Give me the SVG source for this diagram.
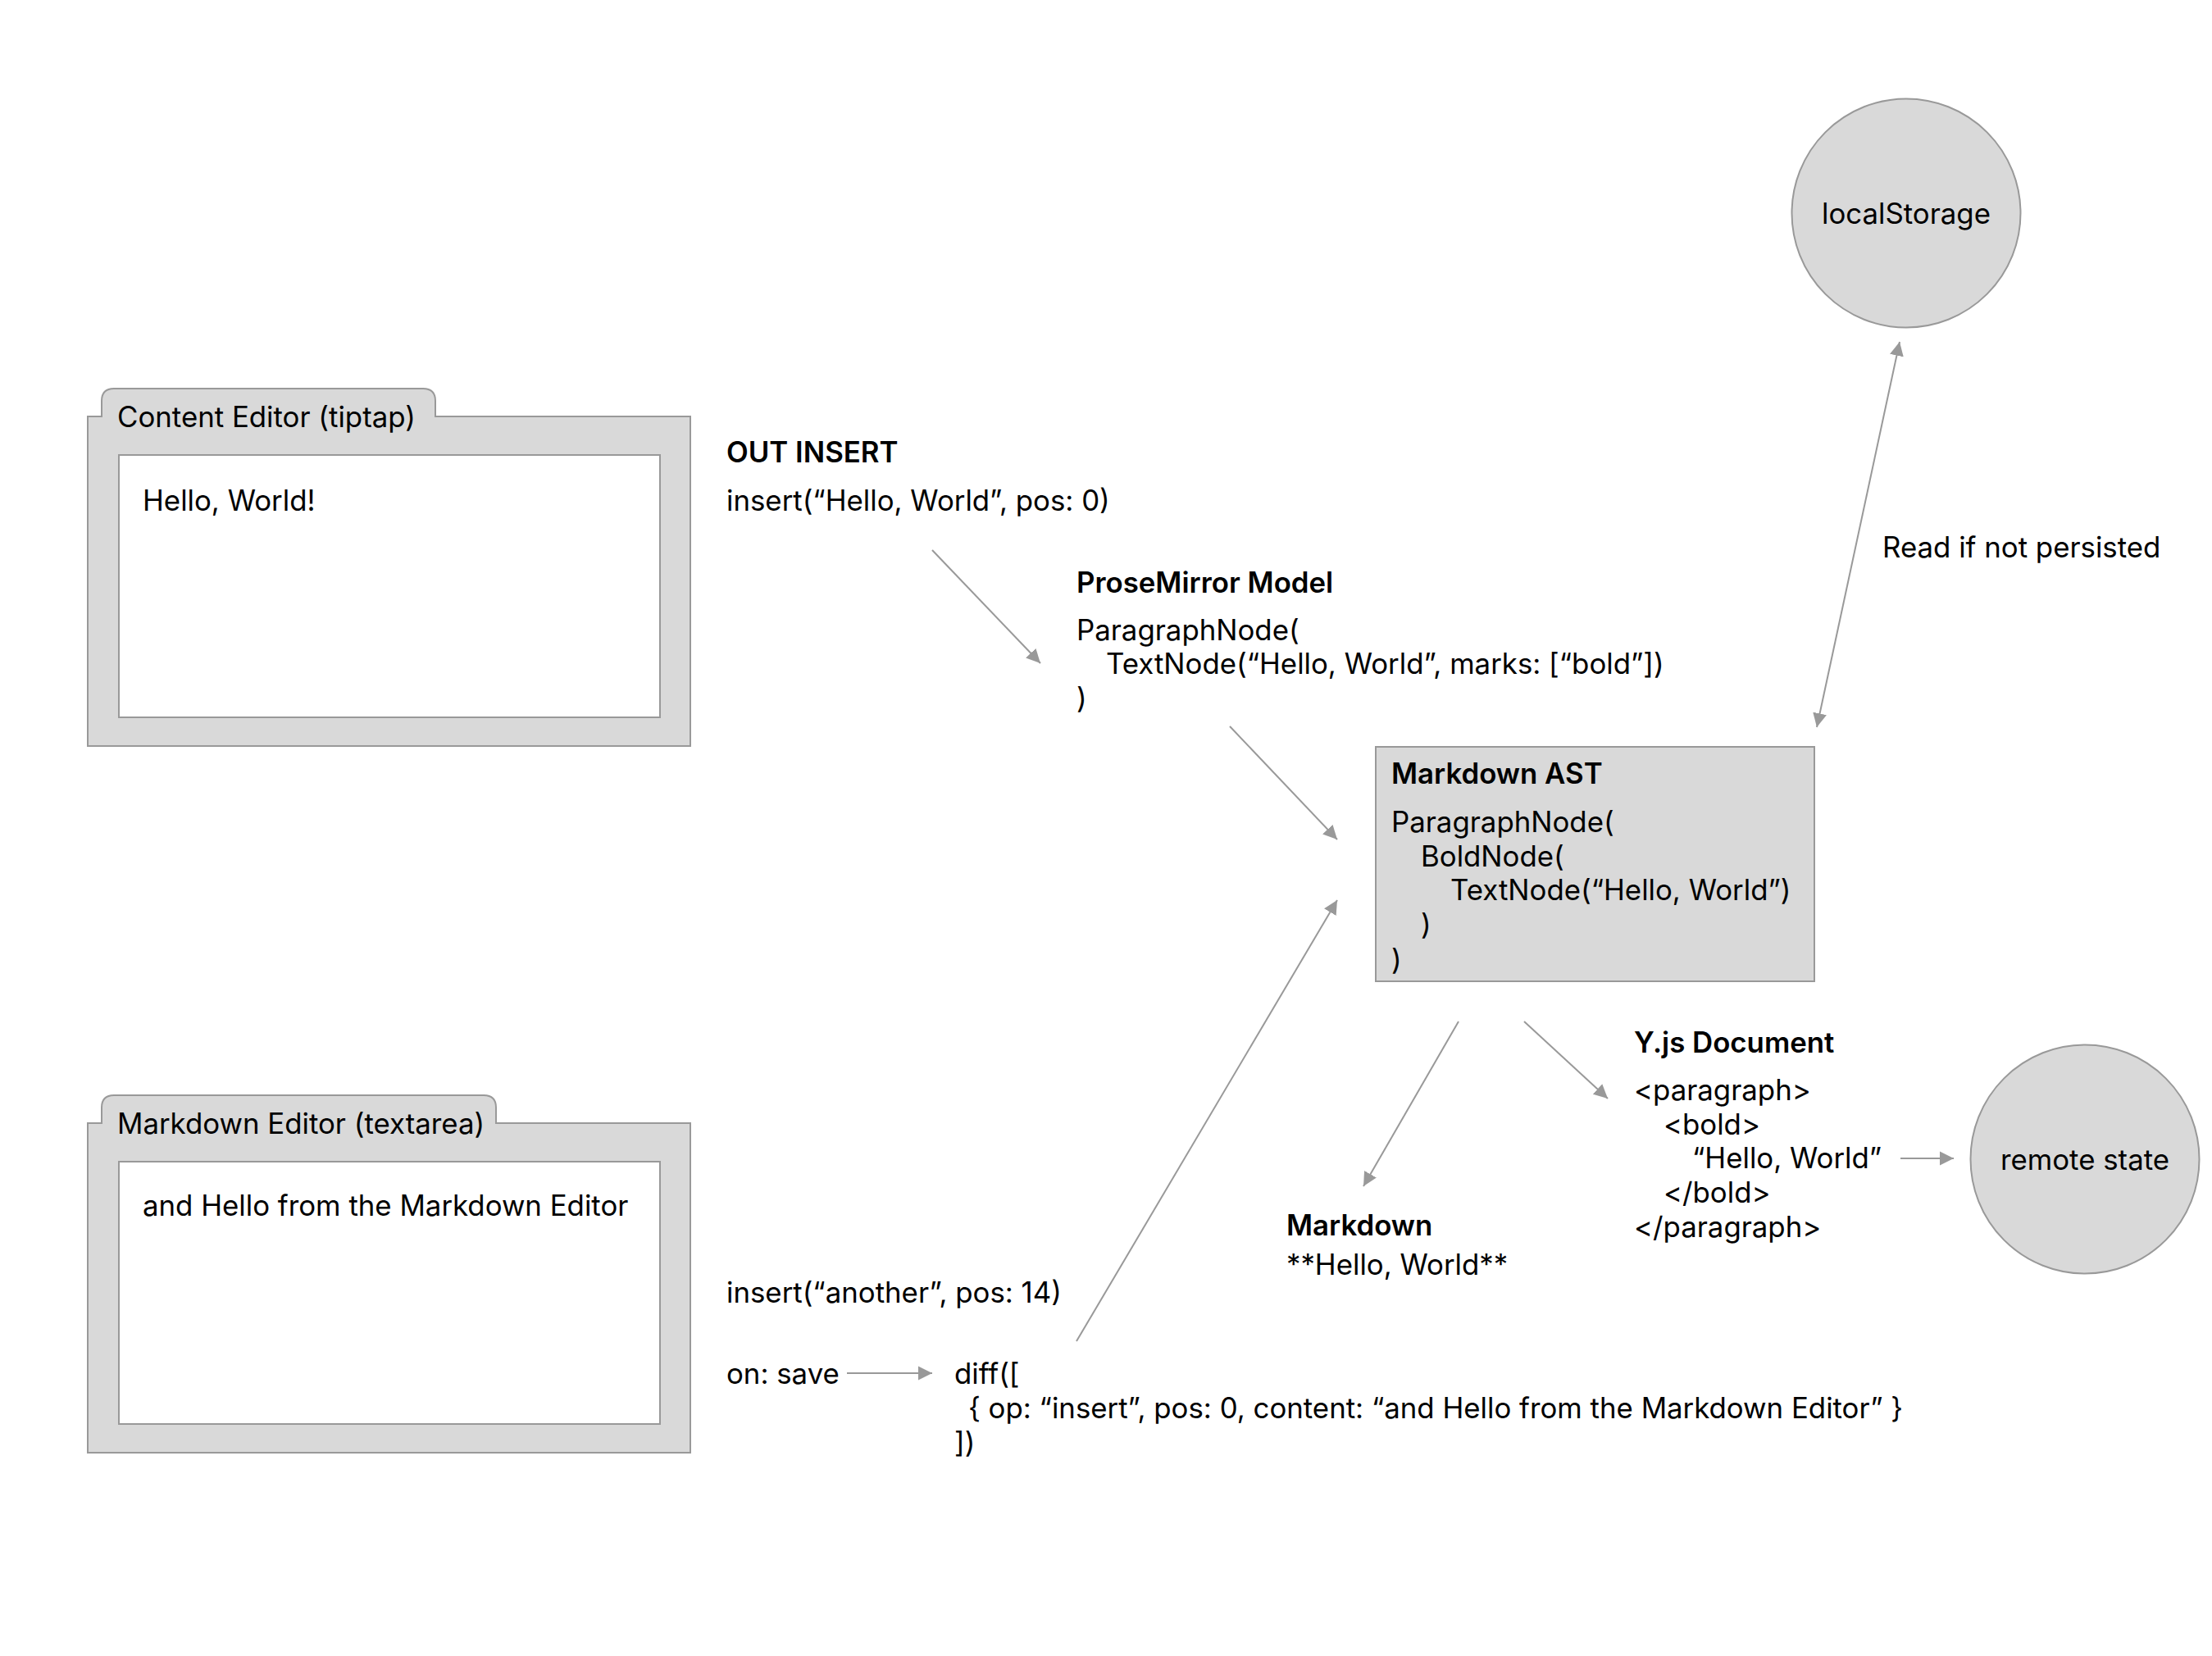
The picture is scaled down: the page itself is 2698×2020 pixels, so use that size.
<svg xmlns="http://www.w3.org/2000/svg" width="2698" height="2020" viewBox="0 0 2698 2020">
<defs>
<style>
text{font-family:Inter,"Liberation Sans",sans-serif;font-size:34.8px;fill:#000}
.b{font-weight:600}
.c{text-anchor:middle}
.shape{fill:#d9d9d9;stroke:#999;stroke-width:2}
.inner{fill:#fff;stroke:#999;stroke-width:2}
.edge{fill:none;stroke:#999;stroke-width:2}
</style>
<marker id="ah" markerUnits="userSpaceOnUse" markerWidth="18" markerHeight="18" refX="17" refY="8.5" orient="auto-start-reverse" viewBox="0 0 18 17">
<path d="M0,0 L17,8.5 L0,17 Z" fill="#999"/>
</marker>
</defs>
<rect width="2698" height="2020" fill="#fff"/>

<g id="content-editor">
<path class="shape" d="M107,508 L124,508 L124,489 Q124,474 139,474 L516,474 Q531,474 531,489 L531,508 L842,508 L842,910 L107,910 Z"/>
<rect class="inner" x="145" y="555" width="660" height="320"/>
<text x="143" y="521">Content Editor (tiptap)</text>
<text x="174" y="623">Hello, World!</text>
</g>

<g id="markdown-editor">
<path class="shape" d="M107,1370 L124,1370 L124,1351 Q124,1336 139,1336 L590,1336 Q605,1336 605,1351 L605,1370 L842,1370 L842,1772 L107,1772 Z"/>
<rect class="inner" x="145" y="1417" width="660" height="320"/>
<text x="143" y="1383">Markdown Editor (textarea)</text>
<text x="174" y="1483">and Hello from the Markdown Editor</text>
</g>

<g id="out-insert">
<text class="b" x="886" y="564">OUT INSERT</text>
<text x="886" y="623">insert(“Hello, World”, pos: 0)</text>
</g>

<g id="prosemirror-model">
<text class="b" x="1313" y="723">ProseMirror Model</text>
<text x="1313" y="781">ParagraphNode(</text>
<text x="1349" y="822">TextNode(“Hello, World”, marks: [“bold”])</text>
<text x="1313" y="864">)</text>
</g>

<g id="markdown-ast">
<rect class="shape" x="1678" y="911" width="535" height="286"/>
<text class="b" x="1697" y="956">Markdown AST</text>
<text x="1697" y="1015">ParagraphNode(</text>
<text x="1733" y="1057">BoldNode(</text>
<text x="1769" y="1098">TextNode(“Hello, World”)</text>
<text x="1733" y="1140">)</text>
<text x="1697" y="1183">)</text>
</g>

<g id="local-storage">
<circle class="shape" cx="2325" cy="260" r="139.5"/>
<text class="c" x="2325" y="273">localStorage</text>
</g>

<g id="read-label">
<text x="2296" y="680">Read if not persisted</text>
</g>

<g id="markdown-output">
<text class="b" x="1569" y="1507">Markdown</text>
<text x="1569" y="1555">**Hello, World**</text>
</g>

<g id="yjs-document">
<text class="b" x="1993" y="1284">Y.js Document</text>
<text x="1993" y="1342">&lt;paragraph&gt;</text>
<text x="2029" y="1384">&lt;bold&gt;</text>
<text x="2064" y="1425">“Hello, World”</text>
<text x="2029" y="1467">&lt;/bold&gt;</text>
<text x="1993" y="1509">&lt;/paragraph&gt;</text>
</g>

<g id="remote-state">
<circle class="shape" cx="2543" cy="1414" r="139.5"/>
<text class="c" x="2543" y="1427">remote state</text>
</g>

<g id="insert-another">
<text x="886" y="1589">insert(“another”, pos: 14)</text>
</g>

<g id="on-save">
<text x="886" y="1688">on: save</text>
</g>

<g id="diff">
<text x="1164" y="1688">diff([</text>
<text x="1181" y="1730">{ op: “insert”, pos: 0, content: “and Hello from the Markdown Editor” }</text>
<text x="1164" y="1772">])</text>
</g>

<g id="connectors">
<line class="edge" x1="1137" y1="671" x2="1269" y2="809" marker-end="url(#ah)"/>
<line class="edge" x1="1500" y1="886" x2="1631" y2="1024" marker-end="url(#ah)"/>
<line class="edge" x1="1313" y1="1636" x2="1631" y2="1098" marker-end="url(#ah)"/>
<line class="edge" x1="2216" y1="887" x2="2317" y2="417" marker-start="url(#ah)" marker-end="url(#ah)"/>
<line class="edge" x1="1779" y1="1246" x2="1663" y2="1447" marker-end="url(#ah)"/>
<line class="edge" x1="1859" y1="1246" x2="1961" y2="1340" marker-end="url(#ah)"/>
<line class="edge" x1="2318" y1="1413" x2="2383" y2="1413" marker-end="url(#ah)"/>
<line class="edge" x1="1033" y1="1675" x2="1137" y2="1675" marker-end="url(#ah)"/>
</g>
</svg>
